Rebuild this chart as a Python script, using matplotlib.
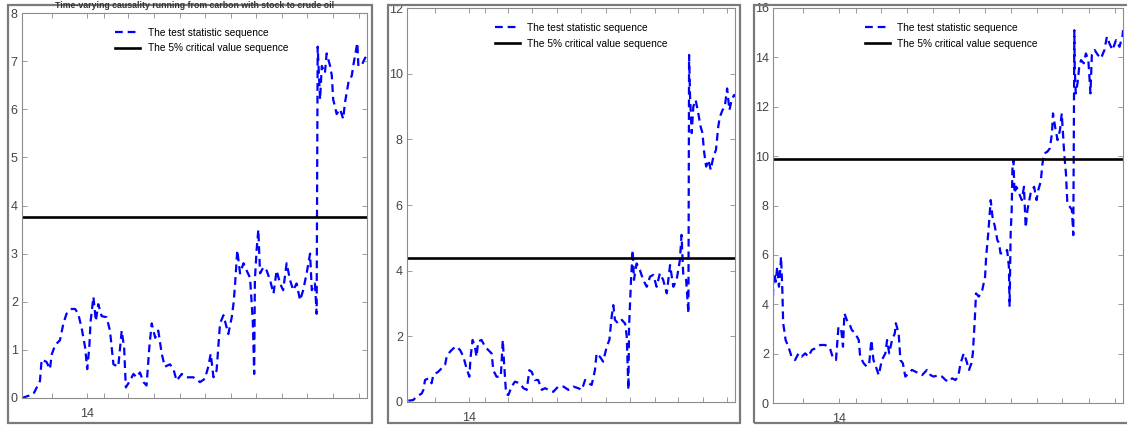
import matplotlib
matplotlib.use("Agg")
import matplotlib.pyplot as plt
from matplotlib.patches import Rectangle

plt.rcParams["font.family"] = ["Liberation Sans Narrow", "Liberation Sans", "DejaVu Sans"]

# ---- data (x is position along the time axis, 0..100) ----
title1 = "Time-varying causality running from carbon with stock to crude oil"
labels = ["The test statistic sequence", "The 5% critical value sequence"]
crit = [3.77, 4.38, 9.88]
ylims = [8, 12, 16]
ystep = [1, 2, 2]
xtick_pos = [8.6, 18.9, 23.8, 30.8, 38.2, 45.7, 53.1, 60.6, 67.9, 75.5, 82.7, 90.2, 97.7]
xtick_lab = ["", "14", "", "", "", "", "", "", "", "", "", "", ""]

t1 = [0, 3.3, 5.2, 5.7, 7.1, 8.1, 8.6, 9.6, 11.0, 12.0,
      12.9, 14.4, 15.4, 16.3, 17.3, 18.3, 18.9, 19.5, 19.9, 20.7,
      21.4, 22.1, 23.1, 24.5, 25.5, 26.5, 27.9, 28.9, 29.6, 30.1,
      31.3, 32.3, 33.2, 34.2, 35.2, 36.1, 36.9, 37.6, 38.6, 39.5,
      40.5, 41.4, 42.9, 43.9, 44.8, 46.3, 47.7, 49.7, 51.6, 53.0,
      54.0, 54.7, 55.5, 56.4, 57.4, 58.4, 59.8, 60.8, 61.3, 61.7,
      62.4, 63.2, 64.2, 65.1, 66.1, 66.9, 67.3, 67.5, 68.0, 68.5,
      69.0, 70.0, 70.9, 71.9, 72.9, 73.8, 74.8, 75.7, 76.7, 77.7,
      78.6, 79.6, 80.6, 81.5, 82.5, 83.5, 84.0, 84.9, 85.4, 85.7,
      86.4, 86.9, 87.8, 88.3, 89.3, 89.8, 90.2, 90.7, 91.2, 92.2,
      93.1, 93.6, 94.1, 94.6, 95.6, 96.0, 96.5, 97.2, 97.5, 98.5,
      99.4, 100]
y1 = [0.0, 0.08, 0.35, 0.8, 0.75, 0.6, 0.9, 1.1, 1.2, 1.55,
      1.75, 1.85, 1.85, 1.75, 1.45, 1.05, 0.6, 1.05, 1.6, 2.1,
      1.6, 1.95, 1.7, 1.68, 1.4, 0.7, 0.65, 1.4, 1.05, 0.22,
      0.36, 0.5, 0.43, 0.53, 0.33, 0.26, 1.05, 1.55, 1.25, 1.4,
      0.92, 0.65, 0.7, 0.6, 0.36, 0.5, 0.43, 0.43, 0.33, 0.4,
      0.65, 0.92, 0.43, 0.57, 1.55, 1.72, 1.33, 1.68, 1.96, 2.3,
      3.07, 2.59, 2.8, 2.65, 2.5, 1.6, 0.5, 2.45, 3.07, 3.5,
      2.59, 2.72, 2.65, 2.45, 2.17, 2.65, 2.38, 2.24, 2.8, 2.45,
      2.24, 2.38, 2.03, 2.24, 2.59, 3.0, 2.24, 2.38, 1.75, 7.3,
      6.2, 6.9, 6.75, 7.16, 6.9, 6.7, 6.2, 6.06, 5.9, 6.0,
      5.8, 6.13, 6.34, 6.55, 6.7, 6.9, 7.1, 7.38, 6.9, 6.92,
      7.06, 7.12]

t2 = [0.4, 1.9, 2.9, 4.5, 5.0, 5.5, 6.5, 7.5, 8.0, 9.5,
      10.6, 11.6, 12.1, 13.1, 14.1, 15.1, 16.2, 17.2, 18.0, 19.0,
      19.4, 20.0, 20.7, 21.2, 21.7, 22.7, 23.8, 24.8, 25.8, 26.3,
      27.3, 28.6, 29.2, 29.6, 30.2, 30.9, 31.9, 32.9, 34.4, 35.5,
      36.5, 37.3, 38.0, 39.0, 40.0, 41.1, 42.1, 43.1, 44.6, 46.1,
      47.7, 49.2, 50.7, 52.2, 53.3, 54.3, 55.3, 56.3, 57.3, 57.8,
      58.8, 59.8, 60.9, 61.7, 62.4, 62.9, 63.4, 64.4, 65.5, 66.5,
      67.0, 67.5, 67.7, 68.0, 68.3, 68.8, 69.2, 70.0, 71.0, 72.0,
      73.1, 74.1, 75.1, 76.1, 77.1, 78.1, 79.2, 80.2, 81.2, 82.2,
      83.2, 83.7, 84.2, 85.1, 85.8, 86.0, 86.3, 86.8, 87.3, 88.0,
      88.8, 89.5, 90.1, 90.5, 91.2, 91.9, 92.6, 93.4, 94.2, 94.9,
      95.4, 96.2, 96.9, 97.6, 98.3, 99.0, 99.7, 100]
y2 = [0.04, 0.06, 0.16, 0.26, 0.37, 0.67, 0.72, 0.57, 0.82, 0.92,
      1.03, 1.13, 1.38, 1.53, 1.63, 1.69, 1.58, 1.38, 1.08, 0.77,
      1.38, 1.89, 1.69, 1.38, 1.84, 1.89, 1.69, 1.58, 1.48, 0.97,
      0.77, 0.77, 1.89, 1.18, 0.26, 0.21, 0.47, 0.62, 0.57, 0.42,
      0.37, 0.97, 0.92, 0.67, 0.67, 0.37, 0.42, 0.37, 0.31, 0.47,
      0.47, 0.37, 0.47, 0.42, 0.37, 0.67, 0.57, 0.52, 0.97, 1.48,
      1.38, 1.23, 1.69, 1.89, 2.6, 2.95, 2.5, 2.39, 2.5, 2.39,
      1.99, 0.37, 2.29, 3.0, 3.72, 4.63, 3.72, 4.22, 4.02, 3.72,
      3.51, 3.82, 3.87, 3.51, 3.92, 3.72, 3.31, 4.17, 3.51, 3.72,
      4.32, 5.09, 3.92, 3.72, 2.7, 10.57, 9.3, 8.19, 9.0, 9.2,
      8.8, 8.39, 8.19, 7.68, 7.17, 7.37, 7.07, 7.47, 7.68, 8.39,
      8.69, 8.89, 9.0, 9.55, 8.89, 9.2, 9.35, 9.3]

t3 = [0, 0.1, 0.4, 0.8, 1.2, 1.7, 2.0, 2.3, 2.7, 2.9,
      3.2, 3.6, 4.4, 5.3, 6.3, 7.3, 8.2, 9.2, 10.1, 11.1,
      12.0, 13.5, 14.9, 16.3, 17.0, 18.0, 18.7, 19.5, 20.0, 20.4,
      21.1, 21.8, 22.5, 23.5, 24.5, 24.9, 25.9, 26.8, 27.5, 28.1,
      28.7, 29.4, 30.2, 31.1, 32.1, 32.6, 33.2, 34.0, 34.8, 35.1,
      35.9, 36.4, 37.1, 37.8, 38.8, 39.7, 40.7, 41.6, 42.6, 44.0,
      45.0, 45.9, 47.4, 48.3, 49.3, 50.2, 51.2, 52.1, 52.9, 53.6,
      54.5, 55.2, 56.0, 56.7, 57.1, 57.7, 58.0, 58.8, 59.8, 60.6,
      60.9, 61.5, 62.2, 62.7, 63.4, 64.1, 64.6, 65.0, 66.0, 66.9,
      67.4, 67.6, 67.9, 68.2, 68.4, 68.7, 69.0, 69.5, 70.3, 71.1,
      71.7, 72.2, 72.7, 73.6, 74.6, 75.3, 75.8, 76.5, 77.0, 77.5,
      78.4, 79.1, 79.7, 80.0, 80.6, 81.3, 82.0, 82.5, 83.2, 83.7,
      84.1, 84.8, 85.4, 85.8, 86.1, 86.2, 86.5, 87.0, 87.5, 88.0,
      88.8, 89.4, 90.1, 90.7, 91.1, 91.9, 92.8, 93.7, 94.7, 95.4,
      96.1, 97.0, 98.0, 99.0, 99.9, 100]
y3 = [4.31, 4.98, 5.25, 4.91, 5.52, 4.71, 5.25, 5.93, 4.44, 3.23,
      2.96, 2.55, 2.28, 1.88, 1.74, 2.01, 1.88, 2.01, 1.88, 2.15,
      2.21, 2.35, 2.35, 2.21, 1.88, 1.74, 3.09, 2.96, 2.28, 3.63,
      3.36, 3.23, 2.96, 2.82, 2.55, 1.88, 1.61, 1.47, 1.61, 2.55,
      1.74, 1.47, 1.13, 1.74, 2.01, 2.55, 2.01, 2.55, 2.82, 3.23,
      2.82, 1.74, 1.61, 1.07, 1.2, 1.34, 1.27, 1.2, 1.13, 1.34,
      1.13, 1.07, 1.13, 1.07, 0.93, 0.86, 1.0, 0.93, 1.07, 1.61,
      2.01, 1.74, 1.34, 1.61, 2.01, 3.5, 4.44, 4.31, 4.58, 5.12,
      5.93, 6.87, 8.22, 7.55, 7.14, 6.6, 6.47, 6.06, 6.06, 6.2,
      5.52, 3.9, 6.87, 7.82, 9.44, 9.84, 8.49, 8.76, 8.49, 8.22,
      8.76, 7.1, 7.82, 8.49, 8.76, 8.22, 8.63, 8.97, 9.71, 10.11,
      10.18, 10.32, 10.92, 11.73, 11.19, 10.65, 11.06, 11.73, 10.11, 9.3,
      8.09, 7.95, 7.82, 6.8, 15.1, 13.62, 12.54, 12.95, 13.62, 13.89,
      13.76, 14.16, 13.89, 12.54, 14.1, 14.3, 14.1, 13.96, 14.3, 14.84,
      14.57, 14.3, 14.7, 14.43, 14.9, 15.1]

series = [(t1, y1), (t2, y2), (t3, y3)]

W, H = 1127, 425


def px_box(x0, y0, x1, y1_):
    # pixel box (top-left origin) -> figure fraction [l, b, w, h]
    return [x0 / W, 1 - y1_ / H, (x1 - x0) / W, (y1_ - y0) / H]


axes_px = [(22, 13, 367, 398), (407, 8, 735, 402), (773, 8, 1123, 403)]
frames_px = [(8, 5, 372, 423), (388, 5, 740, 423), (754, 5, 1135, 423)]
legend_x = [0.27, 0.268, 0.263]

fig = plt.figure(figsize=(W / 100, H / 100), dpi=100)

for i in range(3):
    ax = fig.add_axes(px_box(*axes_px[i]))
    t, y = series[i]
    ax.plot(t, y, color="#0000ff", lw=1.6, dashes=(3.5, 2.2), label=labels[0])
    ax.axhline(crit[i], color="black", lw=1.9, label=labels[1])
    ax.set_xlim(0, 100)
    ax.set_ylim(0, ylims[i])
    ax.set_yticks(range(0, ylims[i] + 1, ystep[i]))
    ax.set_xticks(xtick_pos)
    ax.set_xticklabels(xtick_lab)
    ax.tick_params(direction="in", length=3.5, width=0.6, color="#8c8c8c",
                   labelcolor="#444444", labelsize=9, top=True, right=True, pad=3)
    ax.tick_params(axis="x", pad=7)
    for s in ax.spines.values():
        s.set_color("#8c8c8c")
        s.set_linewidth(0.8)
    ax.legend(loc="upper left", bbox_to_anchor=(legend_x[i], 0.962), frameon=False,
              fontsize=7.3, handlelength=2.5, handletextpad=0.7, labelspacing=0.55,
              borderpad=0, borderaxespad=0)

    fr = px_box(*frames_px[i])
    fig.add_artist(Rectangle((fr[0], fr[1]), fr[2], fr[3], fill=False,
                             ec="#7a7a7a", lw=1.6, transform=fig.transFigure))

fig.text(195 / W, 1 - 1 / H, title1, ha="center", va="top", fontsize=6.3,
         fontweight="bold", color="#333333")

fig.savefig("out.png", dpi=100)
